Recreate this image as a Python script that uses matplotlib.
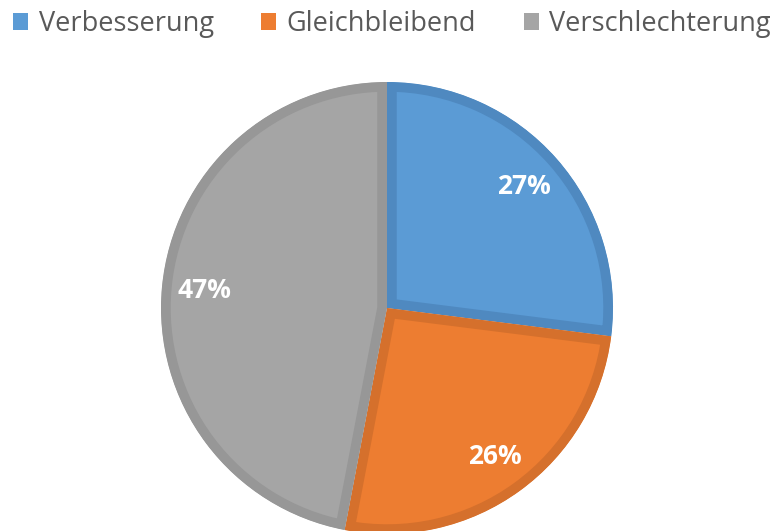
import matplotlib.pyplot as plt
from matplotlib.patches import Patch

categories = ["Verbesserung", "Gleichbleibend", "Verschlechterung"]
shares = [27, 26, 47]
colors = ["#5B9BD5", "#ED7D31", "#A5A5A5"]
edge_colors = ["#4F89C0", "#D5702C", "#979797"]

fig = plt.figure(figsize=(7.76, 5.31), dpi=100)
ax = fig.add_axes([0, 0, 1, 1])

wedges, texts, autotexts = ax.pie(
    shares, colors=colors, startangle=90, counterclock=False,
    autopct="%1.0f%%", pctdistance=0.81,
    textprops=dict(color="white", fontsize=19, fontweight="bold", family="Open Sans"),
)

# border drawn inside each slice only (clip the stroke to the wedge)
for w, ec in zip(wedges, edge_colors):
    w.set_edgecolor(ec)
    w.set_linewidth(14)
    w.set_clip_on(True)
    w.set_clip_path(w)

# place pie: radius 1 -> 226 px, centre at (387, 308) from top-left
ax.set_xlim(-387 / 226, (776 - 387) / 226)
ax.set_ylim(-(531 - 308) / 226, 308 / 226)
ax.set_aspect("auto")
ax.axis("off")

handles = [Patch(facecolor=c, edgecolor="none") for c in colors]
fig.legend(handles, categories, loc="upper center", bbox_to_anchor=(0.505, 1.027),
           ncol=3, frameon=False, handlelength=0.55, handleheight=0.55,
           handletextpad=0.4, columnspacing=1.75,
           prop=dict(family="Open Sans", size=19.5), labelcolor="#595959")

fig.savefig("out.png", dpi=100)
